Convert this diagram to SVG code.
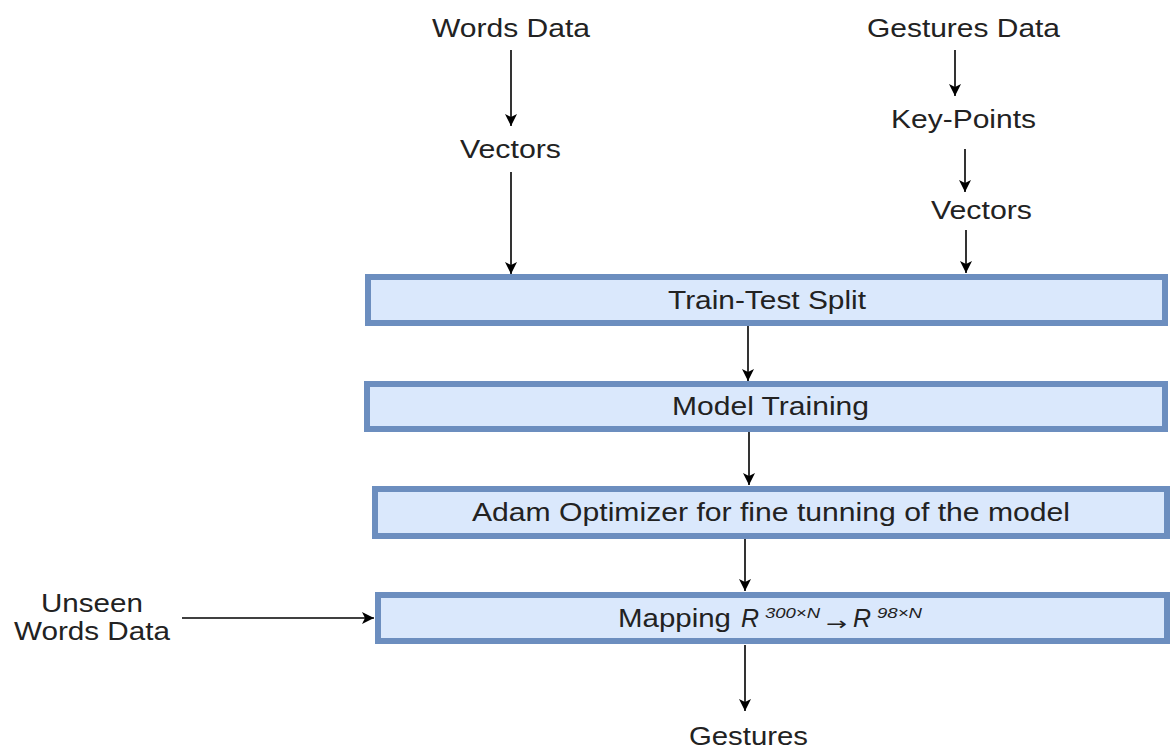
<svg xmlns="http://www.w3.org/2000/svg" width="1171" height="749" viewBox="0 0 1171 749">
  <style>
    .lbl { font-family: "Liberation Sans", Arial, sans-serif; font-size: 26px; fill: #222; }
    .it { font-style: italic; }
    .sup { font-family: "Liberation Sans", Arial, sans-serif; font-size: 14px; font-style: italic; fill: #222; }
    .op { font-family: "DejaVu Sans", sans-serif; font-size: 18px; fill: #222; }
    .box { fill: #dae8fc; stroke: #6c8ebf; stroke-width: 6; }
    .edge { fill: none; stroke: #000; stroke-width: 1.6; marker-end: url(#head); }
  </style>
  <defs>
    <marker id="head" viewBox="0 0 12 12" refX="12" refY="6" markerWidth="12" markerHeight="12" markerUnits="userSpaceOnUse" orient="auto">
      <path d="M0,0 L12,6 L0,12 L3,6 Z" fill="#000"/>
    </marker>
  </defs>
  <rect width="1171" height="749" fill="#fff"/>

  <!-- connectors -->
  <g id="connectors">
    <line class="edge" x1="511" y1="50" x2="511" y2="126"/>
    <line class="edge" x1="511" y1="172" x2="511" y2="274"/>
    <line class="edge" x1="955" y1="50" x2="955" y2="96"/>
    <line class="edge" x1="965" y1="149" x2="965" y2="192"/>
    <line class="edge" x1="966" y1="230" x2="966" y2="273"/>
    <line class="edge" x1="748" y1="326" x2="748" y2="381"/>
    <line class="edge" x1="749" y1="432" x2="749" y2="485"/>
    <line class="edge" x1="745" y1="539" x2="745" y2="591"/>
    <line class="edge" x1="182" y1="618" x2="374" y2="618"/>
    <line class="edge" x1="745" y1="645" x2="745" y2="711"/>
  </g>

  <!-- inputs -->
  <g id="words-data"><text class="lbl" x="432" y="37" textLength="158" lengthAdjust="spacingAndGlyphs">Words Data</text></g>
  <g id="word-vectors"><text class="lbl" x="460" y="158" textLength="101" lengthAdjust="spacingAndGlyphs">Vectors</text></g>
  <g id="gestures-data"><text class="lbl" x="867" y="37" textLength="193" lengthAdjust="spacingAndGlyphs">Gestures Data</text></g>
  <g id="key-points"><text class="lbl" x="891" y="128" textLength="145" lengthAdjust="spacingAndGlyphs">Key-Points</text></g>
  <g id="gesture-vectors"><text class="lbl" x="931" y="219" textLength="101" lengthAdjust="spacingAndGlyphs">Vectors</text></g>

  <!-- pipeline steps -->
  <g id="train-test-split">
    <rect class="box" x="368" y="277" width="797" height="46"/>
    <text class="lbl" x="668" y="309" textLength="198" lengthAdjust="spacingAndGlyphs">Train-Test Split</text>
  </g>
  <g id="model-training">
    <rect class="box" x="367" y="384" width="798" height="45"/>
    <text class="lbl" x="672" y="415" textLength="197" lengthAdjust="spacingAndGlyphs">Model Training</text>
  </g>
  <g id="adam-optimizer">
    <rect class="box" x="375" y="489" width="792" height="47"/>
    <text class="lbl" x="472" y="521" textLength="598" lengthAdjust="spacingAndGlyphs">Adam Optimizer for fine tunning of the model</text>
  </g>
  <g id="mapping">
    <rect class="box" x="378" y="595" width="789" height="46"/>
    <text class="lbl" x="618" y="627" textLength="113" lengthAdjust="spacingAndGlyphs">Mapping</text>
    <text class="lbl it" x="741" y="627" textLength="18" lengthAdjust="spacingAndGlyphs">R</text>
    <text class="sup" x="765" y="618" textLength="55" lengthAdjust="spacingAndGlyphs">300×N</text>
    <text class="op" x="826" y="630" textLength="21" lengthAdjust="spacingAndGlyphs">→</text>
    <text class="lbl it" x="853" y="627" textLength="18" lengthAdjust="spacingAndGlyphs">R</text>
    <text class="sup" x="877" y="618" textLength="45" lengthAdjust="spacingAndGlyphs">98×N</text>
  </g>

  <g id="unseen-words">
    <text class="lbl" x="41" y="612" textLength="102" lengthAdjust="spacingAndGlyphs">Unseen</text>
    <text class="lbl" x="14" y="640" textLength="156" lengthAdjust="spacingAndGlyphs">Words Data</text>
  </g>
  <g id="gestures"><text class="lbl" x="689" y="745" textLength="119" lengthAdjust="spacingAndGlyphs">Gestures</text></g>
</svg>
